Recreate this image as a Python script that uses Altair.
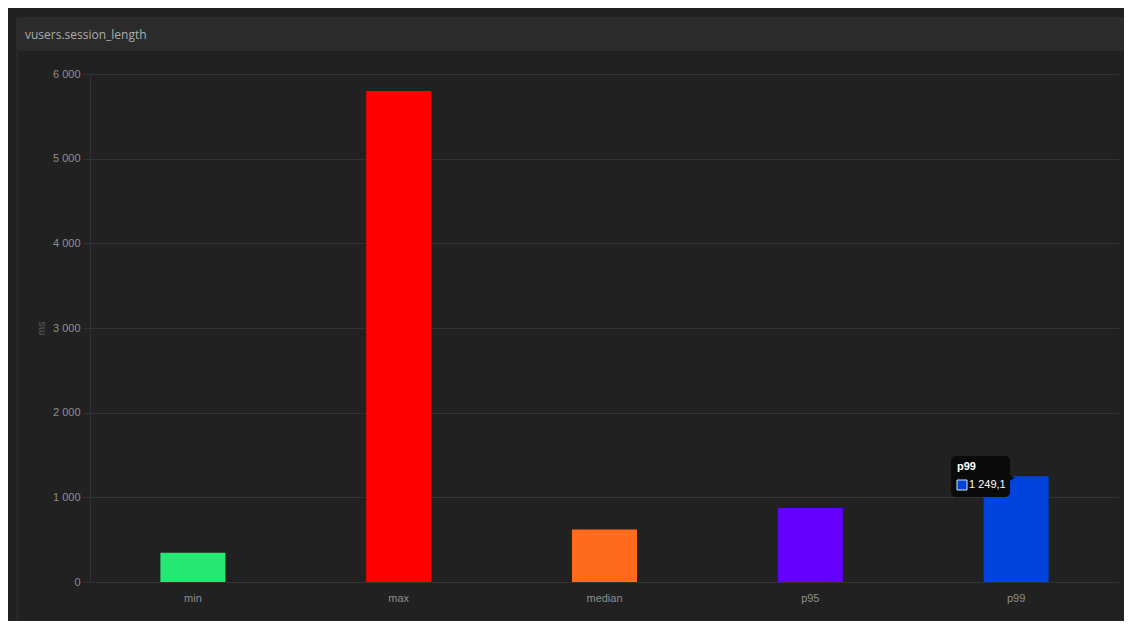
import altair as alt
import pandas as pd

# ---- data ----
categories = ["min", "max", "median", "p95", "p99"]
values = [345, 5800, 620, 873, 1249.1]
colors = ["#25E873", "#FF0000", "#FF6B1D", "#6300FF", "#0044DD"]
y_ticks = [0, 1000, 2000, 3000, 4000, 5000, 6000]
panel_title = "vusers.session_length"
y_title = "ms"
tip_label = "p99"
tip_value = "1 249,1"

df = pd.DataFrame({"stat": categories, "value": values})
one = pd.DataFrame({"a": [0]})

W, H = 1029, 508
GRID = "#333333"
LABEL = "#8e8e8e"
FONT = "Liberation Sans"

bars = alt.Chart(df).mark_bar().encode(
    x=alt.X("stat:N", sort=categories,
            scale=alt.Scale(paddingInner=0.684, paddingOuter=0.342),
            axis=alt.Axis(title=None, labelAngle=0, ticks=False, domain=False,
                          grid=False, labelPadding=10, labelColor=LABEL,
                          labelFontSize=11, labelFont=FONT)),
    y=alt.Y("value:Q", scale=alt.Scale(domain=[0, 6000], nice=False),
            axis=alt.Axis(values=y_ticks, title=y_title, titleColor="#5f5f5f",
                          titleFontSize=10, titleFontWeight="normal", titleFont=FONT,
                          titleX=-49, titleY=H / 2, titleAngle=270,
                          titleAlign="center", titleBaseline="middle",
                          labelExpr="replace(format(datum.value, ','), ',', ' ')",
                          labelColor=LABEL, labelFontSize=11, labelFont=FONT,
                          labelPadding=3, tickSize=7, tickColor=GRID,
                          gridColor=GRID, domainColor=GRID)),
    color=alt.Color("stat:N", sort=categories,
                    scale=alt.Scale(domain=categories, range=colors), legend=None),
)

# panel decoration (outside plot area)
header = alt.Chart(one).mark_rect(fill="#2b2b2b").encode(
    x=alt.value(-73), x2=alt.value(1040), y=alt.value(-56), y2=alt.value(-23))
frame = alt.Chart(one).mark_rect(fillOpacity=0, stroke="#303030", strokeWidth=1).encode(
    x=alt.value(-73), x2=alt.value(1060), y=alt.value(-56), y2=alt.value(547))
title = alt.Chart(one).mark_text(text=panel_title, align="left", baseline="middle",
                                 font="Open Sans", fontSize=12, color="#ababab").encode(
    x=alt.value(-65), y=alt.value(-39))

# tooltip annotation
tip_box = alt.Chart(one).mark_rect(fill="#0a0a0a", cornerRadius=5).encode(
    x=alt.value(861), x2=alt.value(920), y=alt.value(382), y2=alt.value(423))
tip_arrow = alt.Chart(one).mark_point(shape="triangle-right", filled=True, size=40,
                                      color="#0a0a0a", opacity=1).encode(
    x=alt.value(922), y=alt.value(404))
tip_title = alt.Chart(one).mark_text(text=tip_label, align="left", baseline="middle",
                                     font=FONT, fontSize=11, fontWeight="bold",
                                     color="#ffffff").encode(
    x=alt.value(867), y=alt.value(393))
tip_sq = alt.Chart(one).mark_rect(fill="#0044DD", stroke="#e0e0e0", strokeWidth=1).encode(
    x=alt.value(867), x2=alt.value(877), y=alt.value(406), y2=alt.value(416))
tip_val = alt.Chart(one).mark_text(text=tip_value, align="left", baseline="middle",
                                   font=FONT, fontSize=11, color="#ffffff").encode(
    x=alt.value(879), y=alt.value(411))

chart = alt.layer(
    bars, header, frame, title, tip_box, tip_arrow, tip_title, tip_sq, tip_val
).properties(
    width=W, height=H,
    autosize=alt.AutoSizeParams(type="none"),
    padding={"left": 82, "top": 66, "right": 5, "bottom": 39},
    background="#212121",
).configure_view(stroke=None)

chart.save("out.html", embed_options={"renderer": "svg", "actions": False})
